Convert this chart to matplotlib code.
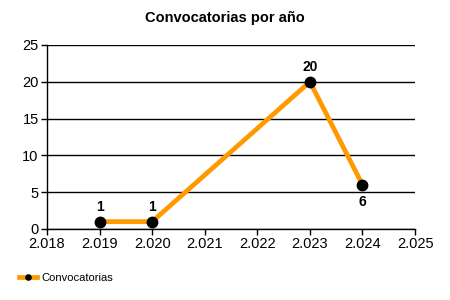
import matplotlib
matplotlib.use("Agg")
import matplotlib.pyplot as plt

years = [2019, 2020, 2023, 2024]
counts = [1, 1, 20, 6]
label_pos = ["above", "above", "above", "below"]
xticks = list(range(2018, 2026))
yticks = [0, 5, 10, 15, 20, 25]

plt.rcParams['font.family'] = ['Liberation Sans', 'DejaVu Sans']

fig = plt.figure(figsize=(4.5, 3), dpi=100)
ax = fig.add_axes([0.1044, 0.2367, 0.818, 0.6133])

ax.plot(years, counts, color='#FF9900', linewidth=3.4, marker='o',
        markersize=7.5, markerfacecolor='black', markeredgecolor='black',
        label='Convocatorias', zorder=3)

for x, y, pos in zip(years, counts, label_pos):
    dy = 10.5 if pos == "above" else -12.5
    ax.annotate(str(y), (x, y), xytext=(0, dy), textcoords='offset points',
                ha='center', va='center', fontsize=10, fontweight='bold')

ax.set_xlim(2018, 2025)
ax.set_ylim(0, 25)
ax.set_xticks(xticks)
ax.set_xticklabels(["{:,}".format(v).replace(",", ".") for v in xticks])
ax.set_yticks(yticks)
ax.tick_params(axis='both', labelsize=10.5, length=4, width=1, color='black', pad=2)
ax.grid(axis='y', color='black', linewidth=1)
ax.set_axisbelow(True)
for s in ['top', 'right']:
    ax.spines[s].set_visible(False)
for s in ['left', 'bottom']:
    ax.spines[s].set_linewidth(1)

fig.text(0.5, 0.94, 'Convocatorias por año', ha='center', va='center',
         fontsize=10.5, fontweight='bold')

fig.legend(loc='center left', bbox_to_anchor=(0.02, 0.073), frameon=False,
           fontsize=8, handlelength=1.6, handletextpad=0.4, markerscale=0.5)

fig.savefig('out.png', dpi=100)
